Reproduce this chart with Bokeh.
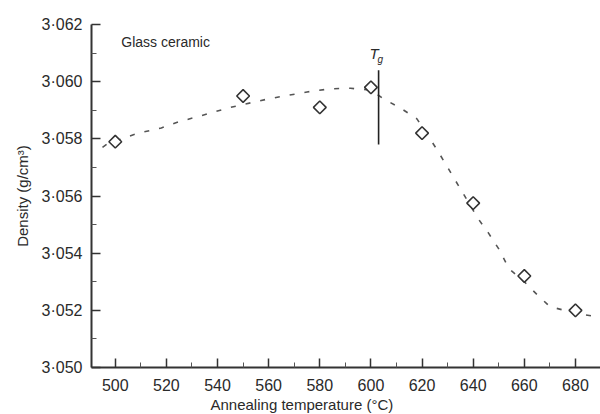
import math
from bokeh.plotting import figure
from bokeh.models import Range1d, FixedTicker, CustomJSTickFormatter, Label, Title
from bokeh.embed import file_html
from bokeh.resources import INLINE

# Measured points
temps = [500, 550, 580, 600, 620, 640, 660, 680]
density = [3.0579, 3.0595, 3.0591, 3.0598, 3.0582, 3.05575, 3.0532, 3.0520]

# Dashed guide curve
curve_t = [495, 497, 509, 518, 525, 532, 545, 560, 575, 584, 592, 600, 605, 612,
           618, 626, 630, 634, 642, 646, 650, 654, 660, 665, 670, 680, 690]
curve_d = [3.0577, 3.05783, 3.0582, 3.05838, 3.0586, 3.05877, 3.0591, 3.0594,
           3.05964, 3.05975, 3.05977, 3.0597, 3.0594, 3.05905, 3.0587, 3.0576,
           3.0570, 3.0564, 3.0552, 3.0547, 3.05415, 3.05346, 3.0530, 3.05255,
           3.05213, 3.0519, 3.05175]

# Tg marker
tg_t = [603, 603]
tg_d = [3.0578, 3.0604]

x_ticks = [500, 520, 540, 560, 580, 600, 620, 640, 660, 680]
y_ticks = [3.050, 3.052, 3.054, 3.056, 3.058, 3.060, 3.062]

FONT = "Liberation Sans"
TXT = "#2a2a2a"

p = figure(width=600, height=414, output_backend="svg", toolbar_location=None,
           x_range=Range1d(490.7, 689.8), y_range=Range1d(3.050, 3.062),
           min_border_left=91, min_border_right=0, min_border_top=24,
           min_border_bottom=47)
p.outline_line_color = None
p.grid.visible = False
p.background_fill_color = "white"

for ax in (p.xaxis[0], p.yaxis[0]):
    ax.axis_line_width = 2
    ax.axis_line_color = "#333333"
    ax.major_tick_line_color = "#333333"
    ax.minor_tick_line_color = "#555555"
    ax.major_tick_line_width = 1.5
    ax.major_tick_in = 9
    ax.major_tick_out = 0
    ax.minor_tick_in = 5
    ax.minor_tick_out = 0
    ax.major_label_text_font = FONT
    ax.major_label_text_font_size = "16px"
    ax.major_label_text_color = TXT
    ax.axis_label_text_font = FONT
    ax.axis_label_text_font_size = "15px"
    ax.axis_label_text_font_style = "normal"
    ax.axis_label_text_color = TXT

p.xaxis.ticker = FixedTicker(ticks=x_ticks, minor_ticks=[t + 10 for t in x_ticks] + [490])
p.yaxis.ticker = FixedTicker(ticks=y_ticks, minor_ticks=[v + 0.001 for v in y_ticks])
p.yaxis.formatter = CustomJSTickFormatter(code="return tick.toFixed(3).replace('.', '\u00b7');")
p.xaxis.major_label_standoff = 11
p.yaxis.major_label_standoff = 9
p.yaxis.axis_label = "Density (g/cm\u00b3)"
p.yaxis.axis_label_standoff = 8

xt = Title(text="Annealing temperature (\u00b0C)", align="left", offset=119,
           text_font=FONT, text_font_size="15px", text_font_style="normal",
           text_color=TXT, standoff=0)
p.add_layout(xt, "below")

p.line(curve_t, curve_d, line_color="#555555", line_width=1.6, line_dash="5 10")
p.line(tg_t, tg_d, line_color="#222222", line_width=1.6)
p.scatter(temps, density, marker="square", size=9, angle=math.pi / 4,
          fill_color="white", line_color="#333333", line_width=1.6)

p.add_layout(Label(x=500, y=3.0614, text="Glass ceramic", text_font=FONT,
                   text_font_size="14px", text_color=TXT, x_offset=6,
                   text_baseline="middle"))
p.add_layout(Label(x=603, y=3.0607, text="T", text_font=FONT, text_font_size="15px",
                   text_font_style="italic", text_color=TXT, x_offset=-9))
p.add_layout(Label(x=603, y=3.0607, text="g", text_font=FONT, text_font_size="10px",
                   text_font_style="italic", text_color=TXT, x_offset=-1, y_offset=-3))

open("out.html", "w").write(file_html(p, INLINE))
